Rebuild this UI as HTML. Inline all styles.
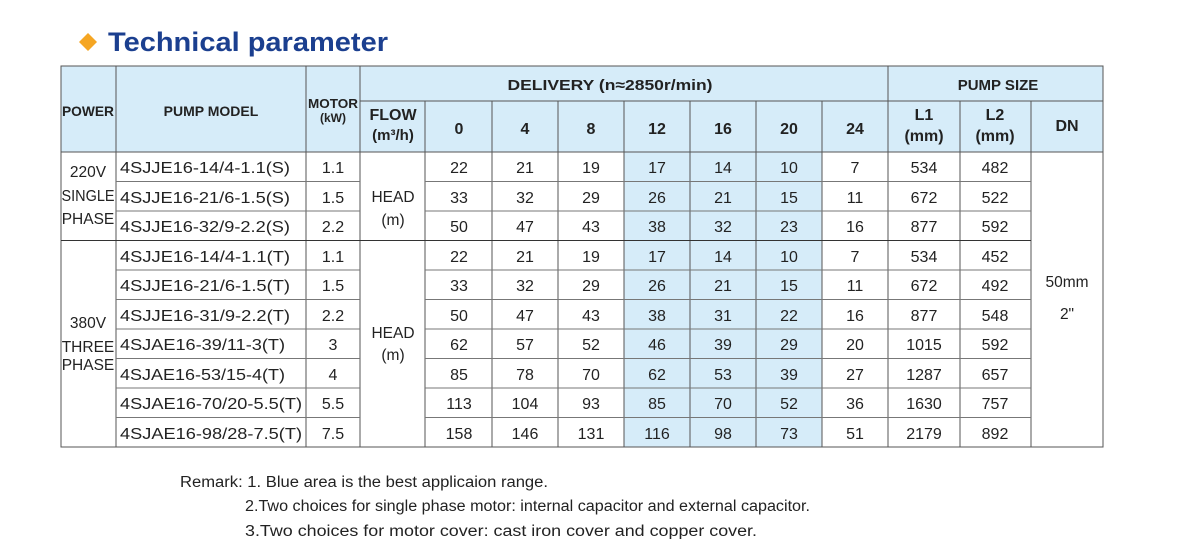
<!DOCTYPE html>
<html><head><meta charset="utf-8"><style>
html,body{margin:0;padding:0;background:#fff;width:1200px;height:539px;overflow:hidden}
svg{display:block;font-family:"Liberation Sans",Arial,sans-serif}
</style></head><body>
<svg width="1200" height="539" viewBox="0 0 1200 539">
<polygon points="88,33 97,42 88,51 79,42" fill="#f5a623"/>
<text x="108" y="51" font-size="27" font-weight="bold" fill="#1b3f8f" textLength="280" lengthAdjust="spacingAndGlyphs">Technical parameter</text>
<rect x="61" y="66" width="1042" height="86" fill="#d6ecf9"/>
<rect x="624" y="152" width="198" height="295" fill="#d6ecf9"/>
<g stroke="#555" stroke-width="1" fill="none">
<rect x="61" y="66" width="1042" height="381"/>
<line x1="360" y1="101" x2="1103" y2="101"/>
<line x1="61" y1="152" x2="1103" y2="152"/>
<line x1="116" y1="66" x2="116" y2="447"/>
<line x1="306" y1="66" x2="306" y2="447"/>
<line x1="360" y1="66" x2="360" y2="447"/>
<line x1="888" y1="66" x2="888" y2="447"/>
<g>
<line x1="425" y1="101" x2="425" y2="447"/><line x1="492" y1="101" x2="492" y2="447"/>
<line x1="558" y1="101" x2="558" y2="447"/><line x1="624" y1="101" x2="624" y2="447"/>
<line x1="690" y1="101" x2="690" y2="447"/><line x1="756" y1="101" x2="756" y2="447"/>
<line x1="822" y1="101" x2="822" y2="447"/><line x1="960" y1="101" x2="960" y2="447"/>
<line x1="1031" y1="101" x2="1031" y2="447"/>
</g>
<g stroke="#777">
<line x1="116" y1="181.5" x2="360" y2="181.5"/><line x1="425" y1="181.5" x2="1031" y2="181.5"/>
<line x1="116" y1="211" x2="360" y2="211"/><line x1="425" y1="211" x2="1031" y2="211"/>
<line x1="116" y1="270" x2="360" y2="270"/><line x1="425" y1="270" x2="1031" y2="270"/>
<line x1="116" y1="299.5" x2="360" y2="299.5"/><line x1="425" y1="299.5" x2="1031" y2="299.5"/>
<line x1="116" y1="329" x2="360" y2="329"/><line x1="425" y1="329" x2="1031" y2="329"/>
<line x1="116" y1="358.5" x2="360" y2="358.5"/><line x1="425" y1="358.5" x2="1031" y2="358.5"/>
<line x1="116" y1="388" x2="360" y2="388"/><line x1="425" y1="388" x2="1031" y2="388"/>
<line x1="116" y1="417.5" x2="360" y2="417.5"/><line x1="425" y1="417.5" x2="1031" y2="417.5"/>
</g>
<line x1="61" y1="240.5" x2="1031" y2="240.5" stroke="#333"/>
</g>
<g font-weight="bold" fill="#222" text-anchor="middle" font-size="14">
<text x="88" y="116" textLength="52" lengthAdjust="spacingAndGlyphs">POWER</text>
<text x="211" y="116">PUMP MODEL</text>
<text x="333" y="108" font-size="12.5" textLength="50" lengthAdjust="spacingAndGlyphs">MOTOR</text>
<text x="333" y="122" font-size="12">(kW)</text>
<text x="610" y="90" font-size="15" textLength="205" lengthAdjust="spacingAndGlyphs">DELIVERY  (n≈2850r/min)</text>
<text x="998" y="90" font-size="15">PUMP SIZE</text>
<text x="393" y="120" font-size="16">FLOW</text>
<text x="393" y="140" font-size="15">(m³/h)</text>
<g font-size="16">
<text x="459" y="134">0</text><text x="525" y="134">4</text><text x="591" y="134">8</text>
<text x="657" y="134">12</text><text x="723" y="134">16</text><text x="789" y="134">20</text><text x="855" y="134">24</text>
<text x="924" y="120">L1</text><text x="924" y="141">(mm)</text>
<text x="995" y="120">L2</text><text x="995" y="141">(mm)</text>
<text x="1067" y="131">DN</text>
</g>
</g>
<g fill="#222" font-size="15.5" text-anchor="middle">
<text x="88" y="177">220V</text><text x="88" y="201" textLength="53" lengthAdjust="spacingAndGlyphs">SINGLE</text><text x="88" y="224">PHASE</text>
<text x="88" y="328">380V</text><text x="88" y="352">THREE</text><text x="88" y="370">PHASE</text>
<text x="393" y="202">HEAD</text><text x="393" y="225">(m)</text>
<text x="393" y="338">HEAD</text><text x="393" y="360">(m)</text>
<text x="1067" y="287">50mm</text><text x="1067" y="319">2"</text>
</g>
<g fill="#222" font-size="16">
<g text-anchor="start">
<text x="120" y="173" textLength="170" lengthAdjust="spacingAndGlyphs">4SJJE16-14/4-1.1(S)</text>
<text x="120" y="203" textLength="170" lengthAdjust="spacingAndGlyphs">4SJJE16-21/6-1.5(S)</text>
<text x="120" y="232" textLength="170" lengthAdjust="spacingAndGlyphs">4SJJE16-32/9-2.2(S)</text>
<text x="120" y="262" textLength="170" lengthAdjust="spacingAndGlyphs">4SJJE16-14/4-1.1(T)</text>
<text x="120" y="291" textLength="170" lengthAdjust="spacingAndGlyphs">4SJJE16-21/6-1.5(T)</text>
<text x="120" y="321" textLength="170" lengthAdjust="spacingAndGlyphs">4SJJE16-31/9-2.2(T)</text>
<text x="120" y="350" textLength="165" lengthAdjust="spacingAndGlyphs">4SJAE16-39/11-3(T)</text>
<text x="120" y="380" textLength="165" lengthAdjust="spacingAndGlyphs">4SJAE16-53/15-4(T)</text>
<text x="120" y="409" textLength="182" lengthAdjust="spacingAndGlyphs">4SJAE16-70/20-5.5(T)</text>
<text x="120" y="439" textLength="182" lengthAdjust="spacingAndGlyphs">4SJAE16-98/28-7.5(T)</text>
</g>
<g text-anchor="middle">
<g><text x="333" y="173">1.1</text><text x="459" y="173">22</text><text x="525" y="173">21</text><text x="591" y="173">19</text><text x="657" y="173">17</text><text x="723" y="173">14</text><text x="789" y="173">10</text><text x="855" y="173">7</text><text x="924" y="173">534</text><text x="995" y="173">482</text></g>
<g><text x="333" y="203">1.5</text><text x="459" y="203">33</text><text x="525" y="203">32</text><text x="591" y="203">29</text><text x="657" y="203">26</text><text x="723" y="203">21</text><text x="789" y="203">15</text><text x="855" y="203">11</text><text x="924" y="203">672</text><text x="995" y="203">522</text></g>
<g><text x="333" y="232">2.2</text><text x="459" y="232">50</text><text x="525" y="232">47</text><text x="591" y="232">43</text><text x="657" y="232">38</text><text x="723" y="232">32</text><text x="789" y="232">23</text><text x="855" y="232">16</text><text x="924" y="232">877</text><text x="995" y="232">592</text></g>
<g><text x="333" y="262">1.1</text><text x="459" y="262">22</text><text x="525" y="262">21</text><text x="591" y="262">19</text><text x="657" y="262">17</text><text x="723" y="262">14</text><text x="789" y="262">10</text><text x="855" y="262">7</text><text x="924" y="262">534</text><text x="995" y="262">452</text></g>
<g><text x="333" y="291">1.5</text><text x="459" y="291">33</text><text x="525" y="291">32</text><text x="591" y="291">29</text><text x="657" y="291">26</text><text x="723" y="291">21</text><text x="789" y="291">15</text><text x="855" y="291">11</text><text x="924" y="291">672</text><text x="995" y="291">492</text></g>
<g><text x="333" y="321">2.2</text><text x="459" y="321">50</text><text x="525" y="321">47</text><text x="591" y="321">43</text><text x="657" y="321">38</text><text x="723" y="321">31</text><text x="789" y="321">22</text><text x="855" y="321">16</text><text x="924" y="321">877</text><text x="995" y="321">548</text></g>
<g><text x="333" y="350">3</text><text x="459" y="350">62</text><text x="525" y="350">57</text><text x="591" y="350">52</text><text x="657" y="350">46</text><text x="723" y="350">39</text><text x="789" y="350">29</text><text x="855" y="350">20</text><text x="924" y="350">1015</text><text x="995" y="350">592</text></g>
<g><text x="333" y="380">4</text><text x="459" y="380">85</text><text x="525" y="380">78</text><text x="591" y="380">70</text><text x="657" y="380">62</text><text x="723" y="380">53</text><text x="789" y="380">39</text><text x="855" y="380">27</text><text x="924" y="380">1287</text><text x="995" y="380">657</text></g>
<g><text x="333" y="409">5.5</text><text x="459" y="409">113</text><text x="525" y="409">104</text><text x="591" y="409">93</text><text x="657" y="409">85</text><text x="723" y="409">70</text><text x="789" y="409">52</text><text x="855" y="409">36</text><text x="924" y="409">1630</text><text x="995" y="409">757</text></g>
<g><text x="333" y="439">7.5</text><text x="459" y="439">158</text><text x="525" y="439">146</text><text x="591" y="439">131</text><text x="657" y="439">116</text><text x="723" y="439">98</text><text x="789" y="439">73</text><text x="855" y="439">51</text><text x="924" y="439">2179</text><text x="995" y="439">892</text></g>
</g>
</g>
<g fill="#222" font-size="15.5">
<text x="180" y="487" textLength="368" lengthAdjust="spacingAndGlyphs">Remark: 1. Blue area is the best applicaion range.</text>
<text x="245" y="511" textLength="565" lengthAdjust="spacingAndGlyphs">2.Two choices for single phase motor: internal capacitor and external capacitor.</text>
<text x="245" y="536" textLength="512" lengthAdjust="spacingAndGlyphs">3.Two choices for motor cover: cast iron cover and copper cover.</text>
</g>
</svg>
</body></html>
